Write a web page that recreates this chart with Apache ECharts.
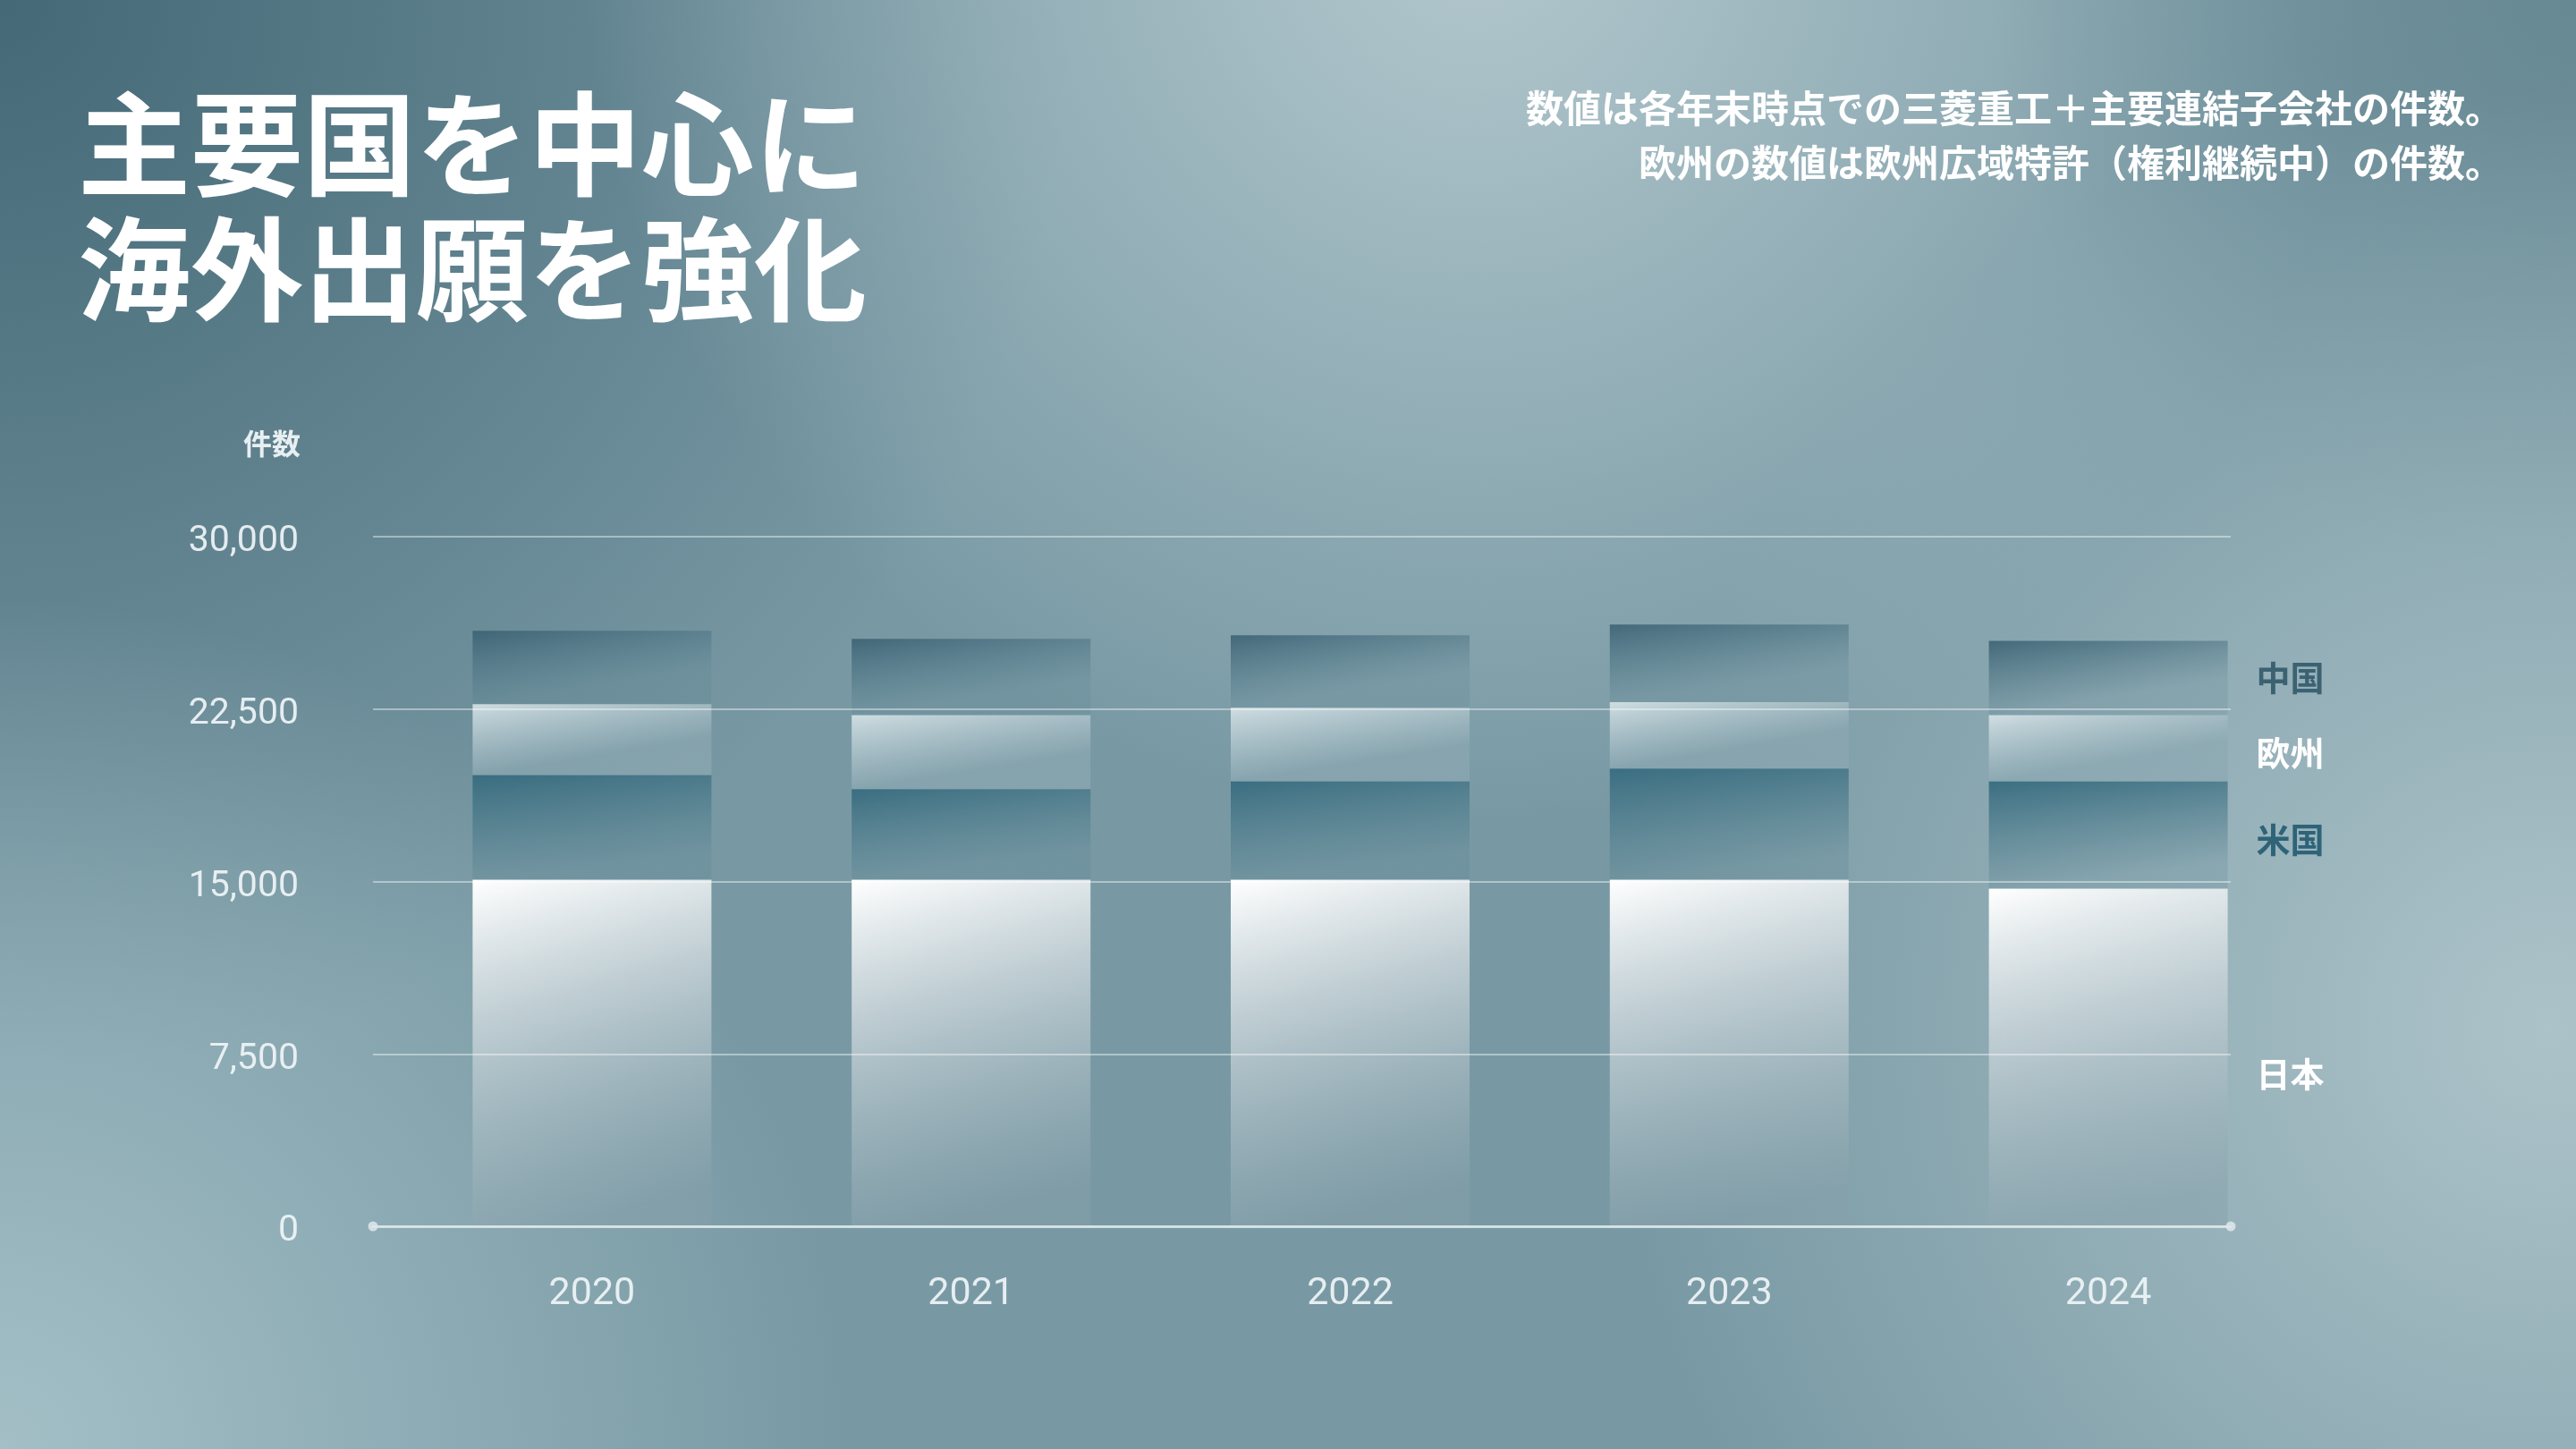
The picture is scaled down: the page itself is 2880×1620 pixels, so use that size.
<!DOCTYPE html>
<html>
  <head>
    <meta charset="utf-8" />
    <title>主要国を中心に海外出願を強化</title>
    <script src="https://cdn.jsdelivr.net/npm/echarts@6/dist/echarts.min.js"></script>
    <style>
      html, body { margin: 0; padding: 0; }
      #main { width: 2880px; height: 1620px; }
    </style>
  </head>
  <body>
    <div id="main"></div>
    <script type="text/javascript">
      // データ（件数）
      var years = ['2020', '2021', '2022', '2023', '2024'];
      var japan = [15080, 15080, 15080, 15080, 14690];
      var usa = [4550, 3940, 4280, 4830, 4670];
      var europe = [3080, 3220, 3200, 2890, 2880];
      var china = [3190, 3310, 3150, 3380, 3230];
      var yTicks = { min: 0, max: 30000, interval: 7500 };

      var titleText = '主要国を中心に\n海外出願を強化';
      var noteText = '数値は各年末時点での三菱重工＋主要連結子会社の件数。\n欧州の数値は欧州広域特許（権利継続中）の件数。';

      var myChart = echarts.init(document.getElementById('main'));

      function grad(x2, y2, c0, c1) {
        return new echarts.graphic.LinearGradient(0, 0, x2, y2, [
          { offset: 0, color: c0 },
          { offset: 1, color: c1 }
        ]);
      }

      function glow(cx, cy, r, color) {
        return {
          type: 'rect',
          z: -10,
          silent: true,
          shape: { x: 0, y: 0, width: 2880, height: 1620 },
          style: {
            fill: {
              type: 'radial', x: cx, y: cy, r: r, global: true,
              colorStops: [
                { offset: 0, color: color },
                { offset: 1, color: color.replace(/[\d.]+\)$/, '0)') }
              ]
            }
          }
        };
      }

      // 最後の棒だけにラベルを付ける
      function withLastLabel(arr) {
        return arr.map(function (v, i) {
          return i === arr.length - 1 ? { value: v, label: { show: true } } : v;
        });
      }

      function seriesLabel(color, dy) {
        return {
          show: false,
          position: 'right',
          distance: 32,
          offset: [0, dy],
          formatter: '{a}',
          color: color,
          fontSize: 38,
          fontWeight: 'bold',
          fontFamily: 'Noto Sans CJK JP'
        };
      }

      var numFont = 'Roboto';

      option = {
        backgroundColor: '#7899a4',
        title: {
          text: titleText,
          left: 82,
          top: 86,
          textStyle: {
            color: '#ffffff',
            fontSize: 126,
            lineHeight: 140,
            fontWeight: 'bold',
            fontFamily: 'Noto Sans CJK JP'
          }
        },
        graphic: [
          glow(0, 0, 1200, 'rgba(66,102,116,0.95)'),
          glow(1650, -80, 1000, 'rgba(182,202,208,0.95)'),
          glow(2880, 0, 650, 'rgba(100,134,145,0.85)'),
          glow(0, 1620, 950, 'rgba(166,193,200,0.95)'),
          glow(2850, 1150, 1050, 'rgba(178,199,205,0.9)'),
          {
            type: 'text',
            x: 2798,
            y: 91,
            z: 10,
            style: {
              text: noteText,
              align: 'right',
              verticalAlign: 'top',
              fill: '#ffffff',
              fontSize: 42,
              lineHeight: 61,
              fontWeight: 'bold',
              fontFamily: 'Noto Sans CJK JP'
            }
          }
        ],
        grid: [
          { left: 450, right: 311, top: 600, bottom: 249 },
          { left: 417, right: 386, top: 600, bottom: 249 }
        ],
        xAxis: [
          {
            type: 'category',
            gridIndex: 0,
            data: years,
            axisLine: { show: false },
            axisTick: { show: false },
            axisLabel: {
              margin: 55,
              color: 'rgba(240,245,247,0.92)',
              fontSize: 43,
              fontFamily: numFont
            }
          },
          {
            type: 'category',
            gridIndex: 1,
            data: years,
            axisTick: { show: false },
            axisLabel: { show: false },
            axisLine: {
              show: true,
              symbol: ['circle', 'circle'],
              symbolSize: [11, 11],
              lineStyle: { color: 'rgba(222,232,235,0.85)', width: 3 }
            },
            z: 4
          }
        ],
        yAxis: [
          {
            type: 'value',
            gridIndex: 0,
            min: yTicks.min,
            max: yTicks.max,
            interval: yTicks.interval,
            axisLabel: { show: false },
            axisLine: { show: false },
            axisTick: { show: false },
            splitLine: { show: false }
          },
          {
            type: 'value',
            gridIndex: 1,
            min: yTicks.min,
            max: yTicks.max,
            interval: yTicks.interval,
            name: '件数',
            nameLocation: 'end',
            nameGap: 88,
            nameTextStyle: {
              align: 'right',
              padding: [0, 81, 0, 0],
              color: '#e8eff1',
              fontSize: 32,
              fontWeight: 'bold',
              fontFamily: 'Noto Sans CJK JP'
            },
            axisLine: { show: false },
            axisTick: { show: false },
            axisLabel: {
              margin: 83,
              verticalAlign: 'top',
              lineHeight: 12,
              color: 'rgba(240,245,247,0.92)',
              fontSize: 41,
              fontFamily: numFont,
              formatter: function (v) { return v.toLocaleString('en-US'); }
            },
            splitLine: { lineStyle: { color: 'rgba(255,255,255,0.42)', width: 2 } },
            z: 3
          }
        ],
        series: [
          {
            name: '日本',
            type: 'bar',
            stack: 'total',
            barWidth: 267,
            data: withLastLabel(japan),
            itemStyle: { color: grad(0.4, 1, '#ffffff', 'rgba(135,160,170,0.45)') },
            label: seriesLabel('#ffffff', 18)
          },
          {
            name: '米国',
            type: 'bar',
            stack: 'total',
            barWidth: 267,
            data: withLastLabel(usa),
            itemStyle: { color: grad(0.05, 1, 'rgba(52,106,126,0.92)', 'rgba(80,125,140,0.2)') },
            label: seriesLabel('#2e6378', 5)
          },
          {
            name: '欧州',
            type: 'bar',
            stack: 'total',
            barWidth: 267,
            data: withLastLabel(europe),
            itemStyle: { color: grad(0.05, 1, 'rgba(214,227,231,0.92)', 'rgba(140,168,178,0.7)') },
            label: seriesLabel('#ffffff', 5)
          },
          {
            name: '中国',
            type: 'bar',
            stack: 'total',
            barWidth: 267,
            data: withLastLabel(china),
            itemStyle: { color: grad(0.05, 1, 'rgba(58,96,114,0.88)', 'rgba(85,125,140,0.18)') },
            label: seriesLabel('#3c6272', 0)
          }
        ]
      };

      myChart.setOption(option);
    </script>
  </body>
</html>
